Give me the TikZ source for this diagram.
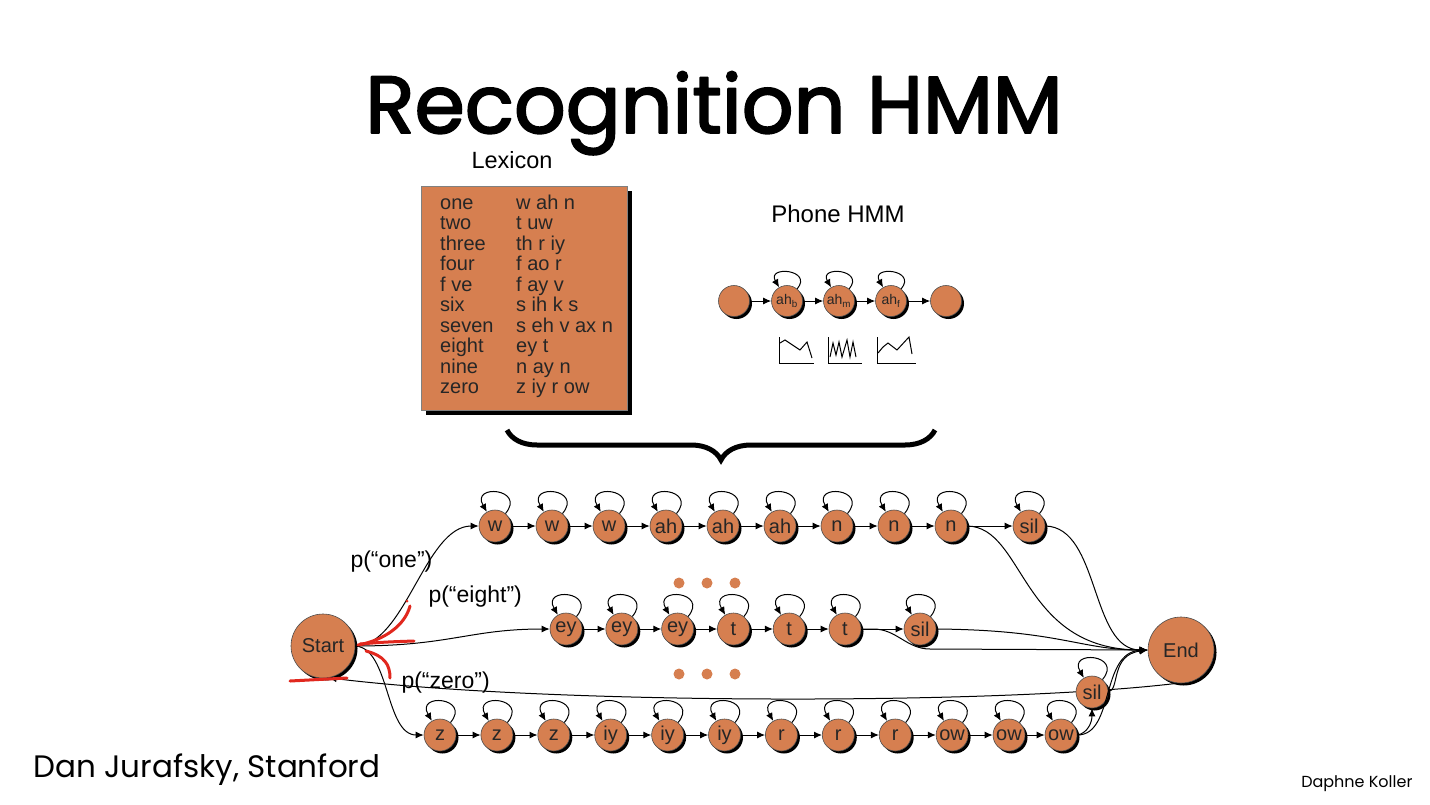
\documentclass[tikz,border=0pt]{standalone}
\usepackage{fontspec}
\setmainfont{Liberation Sans}
\newfontfamily\comicfont{Poppins}
\usepackage{xcolor}
\usetikzlibrary{positioning, shadows, arrows.meta, decorations.pathreplacing, backgrounds}
\definecolor{naranja}{RGB}{214,127,80}
\definecolor{rojo}{RGB}{225,40,30}
\newcommand{\trazo}[1]{\special{pdf:code q 2 Tr 1.8 w 1 j}#1\special{pdf:code Q}}

\begin{document}
\begin{tikzpicture}[x=1pt, y=1pt,
  estado/.style={circle, fill=naranja, draw=black!70, line width=0.6pt, minimum size=32pt, inner sep=0pt,
    text=black!85, font=\fontsize{20}{20}\selectfont,
    drop shadow={shadow xshift=2.5pt, shadow yshift=-2.5pt, opacity=1, fill=black}},
  fono/.style={estado, minimum size=31pt, font=\fontsize{14}{14}\selectfont},
  flecha/.style={-{Latex[length=8pt,width=7pt]}, line width=1pt},
  lazo/.style={flecha, loop, out=50, in=120, min distance=5pt, looseness=4.5},
  etiq/.style={anchor=base west, font=\fontsize{23}{23}\selectfont},
  rayon/.style={rojo, line width=3pt, line cap=round}]
  \useasboundingbox (0,0) rectangle (1430,-804);

  % Titulo
  \node[anchor=base] (titulo) at (714,-133) {\comicfont\fontsize{81}{81}\selectfont\trazo{Recognition HMM}};

  % Lexicon
  \node[fill=naranja, draw=black!50, minimum width=206pt, minimum height=224pt,
    drop shadow={shadow xshift=5pt, shadow yshift=-5pt, opacity=1, fill=black}] (lexicon) at (524,-298) {};
  \node[above=14pt of lexicon, xshift=-12pt, font=\fontsize{23.5}{23.5}\selectfont] (lexTit) {Lexicon};
  \node[anchor=north west, inner sep=0pt, text=black!85, font=\fontsize{20}{20}\selectfont] (lexTxt) at (440,-195) {%
    \begin{tabular}{@{}p{76pt}@{}l@{}}
      one & w ah n\\ two & t uw\\ three & th r iy\\ four & f ao r\\ f ve & f ay v\\
      six & s ih k s\\ seven & s eh v ax n\\ eight & ey t\\ nine & n ay n\\ zero & z iy r ow
    \end{tabular}};

  % Phone HMM
  \node[font=\fontsize{24}{24}\selectfont] (phoneTit) at (838,-214) {Phone HMM};
  \node[fono] (f0) at (734,-301) {};
  \node[fono] (f1) at (787,-301) {ah\textsubscript{b}};
  \node[fono] (f2) at (839,-301) {ah\textsubscript{m}};
  \node[fono] (f3) at (891,-301) {ah\textsubscript{f}};
  \node[fono] (f4) at (946,-301) {};
  \foreach \i [remember=\i as \j (initially 0)] in {1,...,4}
    \draw[flecha] (f\j) -- (f\i);
  \foreach \i in {1,2,3}
    \path (f\i) edge[lazo, looseness=3.6] (f\i);

  % Graficas de salida
  \draw[line width=1pt] (779,-337) -- (779,-363) -- (814,-363);
  \draw[line width=1pt] (780,-343) -- (785,-340) -- (800,-350) -- (807,-342) -- (812,-358);
  \draw[line width=1pt] (828,-337) -- (828,-363) -- (862,-363);
  \draw[line width=1pt] (830,-357) -- (833,-343) -- (836,-355) -- (839,-342) -- (842,-357)
    -- (847,-340) -- (850,-357) -- (853,-342) -- (856,-357);
  \draw[line width=1pt] (877,-337) -- (877,-363) -- (916,-363);
  \draw[line width=1pt] (878,-353) -- (883,-347) -- (888,-343) -- (897,-350) -- (909,-337) -- (912,-354);

  % Llave
  \draw[decorate, decoration={brace, amplitude=30pt, mirror}, line width=5pt] (507,-430) -- (935,-430);

  % Start y End
  \node[estado, minimum size=64pt] (start) at (323,-646) {Start};
  \node[estado, minimum size=66pt] (end) at (1181,-650) {End};

  % Cadena "one"
  \foreach \lab [count=\i] in {w,w,w,ah,ah,ah,n,n,n}
    \node[estado] (a\i) at ({495+57*(\i-1)},-526) {\lab};
  \node[estado] (a10) at (1029,-526) {sil};
  \foreach \i [remember=\i as \j (initially 1)] in {2,...,10}
    \draw[flecha] (a\j) -- (a\i);
  \foreach \i in {1,...,10}
    \path (a\i) edge[lazo] (a\i);

  % Cadena "eight"
  \foreach \lab [count=\i] in {ey,ey,ey,t,t,t}
    \node[estado] (b\i) at ({566+55.8*(\i-1)},-629) {\lab};
  \node[estado] (b7) at (920,-629) {sil};
  \foreach \i [remember=\i as \j (initially 1)] in {2,...,7}
    \draw[flecha] (b\j) -- (b\i);
  \foreach \i in {1,...,7}
    \path (b\i) edge[lazo] (b\i);

  % Cadena "zero"
  \foreach \lab [count=\i] in {z,z,z,iy,iy,iy,r,r,r,ow,ow}
    \node[estado] (c\i) at ({440+56.9*(\i-1)},-735) {\lab};
  \node[estado] (c12) at (1061,-735) {ow};
  \node[estado] (silz) at (1092,-692) {sil};
  \foreach \i [remember=\i as \j (initially 1)] in {2,...,12}
    \draw[flecha] (c\j) -- (c\i);
  \foreach \i in {1,...,12}
    \path (c\i) edge[lazo] (c\i);
  \path (silz) edge[lazo] (silz);

  % Puntos
  \foreach \x in {679,707,735} {
    \fill[naranja] (\x,-583) circle (5.5pt);
    \fill[naranja] (\x,-674) circle (5.5pt);
  }

  % Conexiones desde Start
  \draw[flecha] (start.east) .. controls (405,-646) and (425,-526) .. (a1.west);
  \draw[flecha] (start.east) .. controls (450,-646) and (470,-629) .. (b1.west);
  \draw[flecha] (start.east) .. controls (390,-648) and (385,-735) .. (c1.west);
  \node[etiq] (pone) at (347,-567) {p(“one”)};
  \node[etiq] (peight) at (425,-602) {p(“eight”)};
  \node[etiq] (pzero) at (398,-688) {p(“zero”)};

  % Conexiones hacia End
  \draw[flecha] (a9.east) .. controls (1025,-527) and (1020,-650) .. (end.west);
  \draw[flecha] (a10.east) .. controls (1100,-527) and (1090,-650) .. (end.west);
  \draw[flecha] (b7.east) .. controls (1060,-630) and (1080,-650) .. (end.west);
  \draw[flecha] (c12.east) .. controls (1088,-733) and (1092,-722) .. (silz.south);
  \draw[flecha] (c12.east) .. controls (1115,-735) and (1100,-652) .. (end.west);
  \draw[flecha] (silz.east) .. controls (1120,-690) and (1110,-655) .. (end.west);
  \begin{scope}[on background layer]
    \draw[flecha] (b6.east) -- ++(12,0) to[out=0,in=180] (930,-649) -- (end.west);
    \draw[flecha] (end.-95) .. controls (1000,-705) and (550,-705) .. (start.-80);
  \end{scope}

  % Marcas rojas
  \draw[rayon] (358,-645) .. controls (385,-640) and (405,-625) .. (410,-606);
  \draw[rayon] (360,-644) .. controls (385,-642) .. (414,-641);
  \draw[rayon] (366,-651) .. controls (385,-656) and (390,-665) .. (390,-678);
  \draw[rayon] (290,-681) -- (347,-678);
  \fill[rojo] (407,-601) circle (1.5pt);

  % Creditos
  \node[anchor=base west] (autor) at (30,-777) {\comicfont\fontsize{31}{31}\selectfont Dan Jurafsky, Stanford};
  \node[anchor=base east] (koller) at (1416,-787) {\comicfont\fontsize{16}{16}\selectfont Daphne Koller};
\end{tikzpicture}
\end{document}
